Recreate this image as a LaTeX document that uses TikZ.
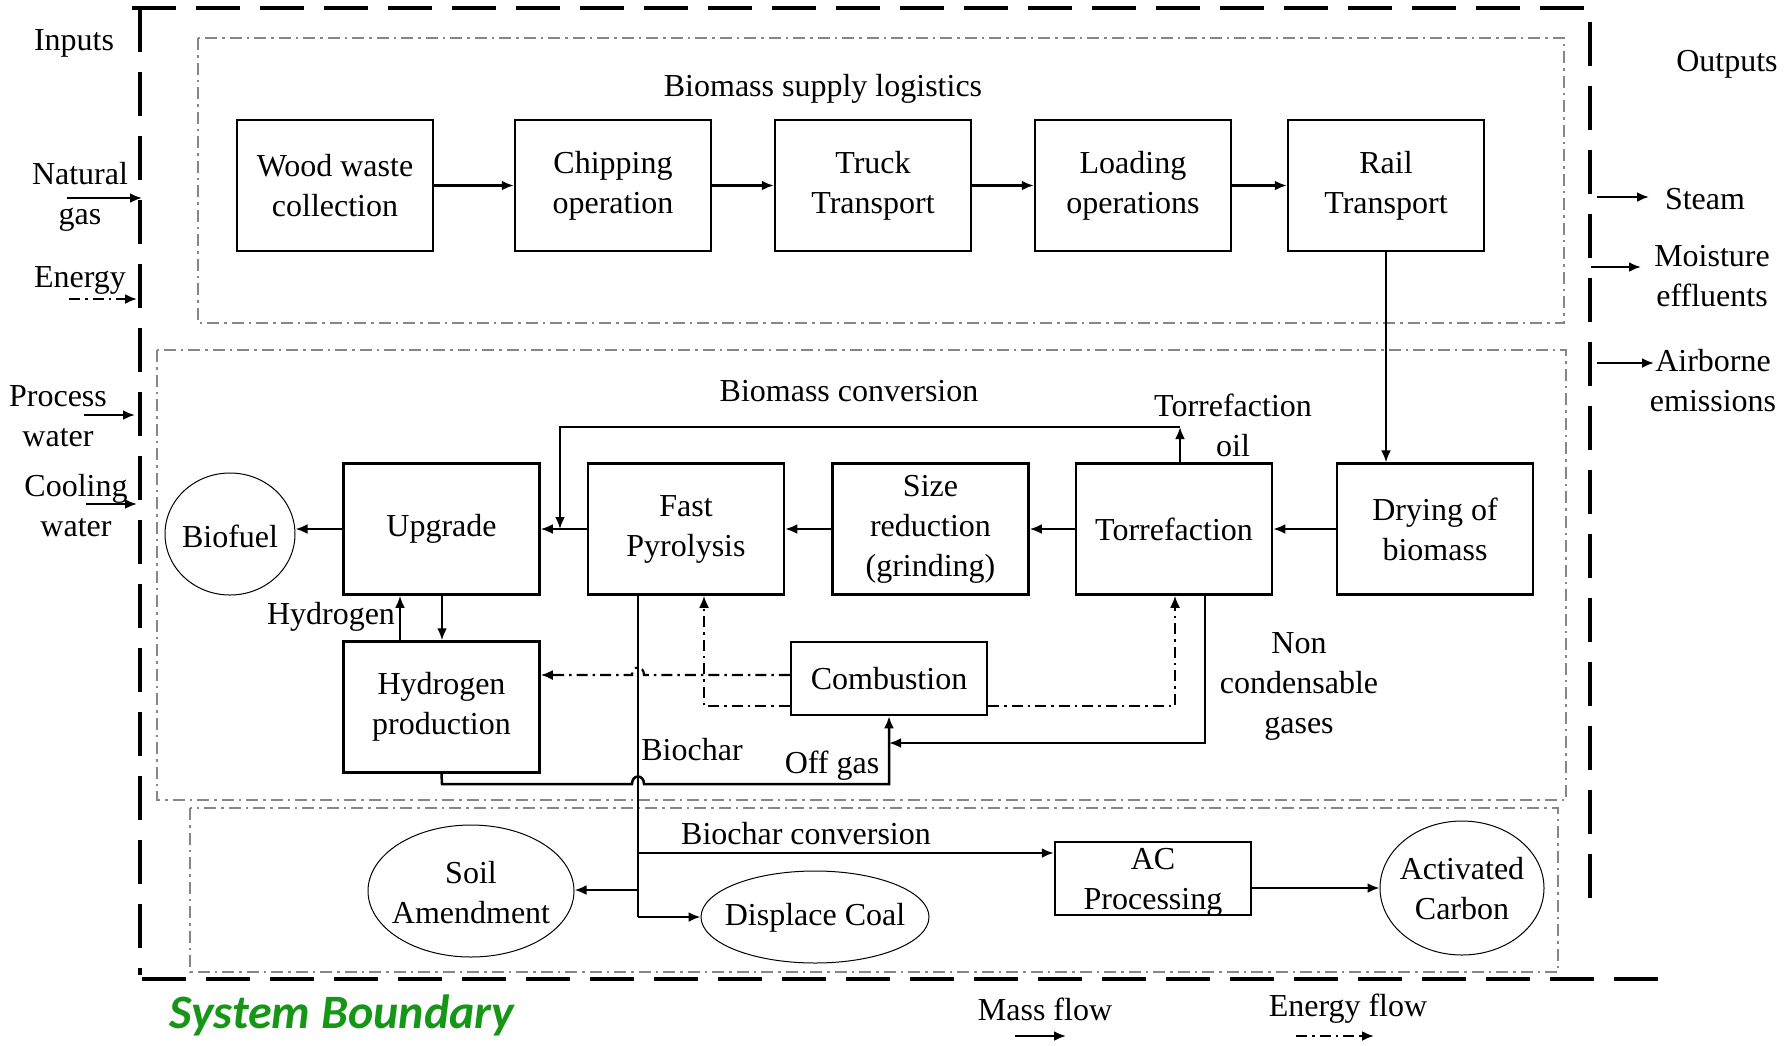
\documentclass[tikz,border=0pt]{standalone}
\usepackage{fontspec}
\setmainfont{Liberation Serif}
\newfontfamily\sbfont{Carlito}
\usetikzlibrary{shapes.geometric,arrows.meta}
\definecolor{sbgreen}{RGB}{22,150,22}
\definecolor{regiongray}{RGB}{135,135,135}
\begin{document}
\begin{tikzpicture}[x=1pt,y=-1pt,
  every node/.style={font=\fontsize{32}{40}\selectfont},
  proc/.style={draw, line width=2.5pt, minimum width=196pt, minimum height=131pt, inner sep=0pt, align=center},
  term/.style={draw, ellipse, line width=1pt, inner sep=0pt},
  lbl/.style={inner sep=0pt, align=center},
  tip/.style={-{Latex[length=12pt,width=10pt]}},
  flow/.style={line width=2.5pt, tip},
  mline/.style={line width=2.5pt},
  eflow/.style={line width=2.2pt, dash pattern=on 11pt off 5pt on 2.5pt off 5pt, tip},
  region/.style={draw=regiongray, line width=2pt, dash pattern=on 12pt off 5pt on 2.5pt off 5pt},
  boundary/.style={line width=4.5pt, dash pattern=on 44pt off 20pt}
]
\useasboundingbox (0,0) rectangle (1787,1045);

% system boundary
\draw[boundary] (132,8) -- (1590,8) -- (1590,912);
\draw[boundary] (140,8) -- (140,975);
\draw[boundary] (142,979) -- (1665,979);

% regions
\draw[region] (198,38) rectangle (1564,323);
\draw[region] (157,350) rectangle (1566,800);
\draw[region] (190,808) rectangle (1558,972);

\node[lbl] (tsupply) at (823,89) {Biomass supply logistics};
\node[lbl] (tconv) at (849,391) {Biomass conversion};
\node[lbl] (tchar) at (806,834) {Biochar conversion};

% supply chain
\node[proc] (wood) at (335,185.5) {Wood waste\\collection};
\node[proc] (chip) at (613,185.5) {Chipping\\operation};
\node[proc] (truck) at (873,185.5) {Truck\\Transport};
\node[proc] (load) at (1133,185.5) {Loading\\operations};
\node[proc] (rail) at (1386,185.5) {Rail\\Transport};
\draw[flow] (wood.east) -- (chip.west);
\draw[flow] (chip.east) -- (truck.west);
\draw[flow] (truck.east) -- (load.west);
\draw[flow] (load.east) -- (rail.west);

% conversion
\node[proc] (upg) at (441.5,529) {Upgrade};
\node[proc] (fp) at (686,529) {Fast\\Pyrolysis};
\node[proc] (size) at (930.5,529) {Size\\reduction\\(grinding)};
\node[proc] (torr) at (1174,529) {Torrefaction};
\node[proc] (dry) at (1435,529) {Drying of\\biomass};
\node[term, minimum width=130pt, minimum height=122pt] (biofuel) at (230,534) {};
\node[lbl] (biofueltxt) at (230,536) {Biofuel};
\node[proc] (hyd) at (441.5,707) {Hydrogen\\production};
\node[proc, minimum height=73pt] (comb) at (889,678.5) {Combustion};

\draw[flow, line width=2pt] (rail.south) -- (rail.south |- dry.north);
\draw[flow] (dry.west) -- (torr.east);
\draw[flow] (torr.west) -- (size.east);
\draw[flow] (size.west) -- (fp.east);
\draw[flow] (fp.west) -- (upg.east);
\draw[flow] (upg.west) -- (biofuel.east |- upg.west);

% torrefaction oil
\coordinate (oiltop) at (1180,427);
\coordinate (oilleft) at (560,427);
\draw[flow] (torr.north -| oiltop) -- (oiltop);
\draw[flow] (oiltop) -- (oilleft) -- (oilleft |- fp.west);
\node[lbl] (oiltxt) at (1233,425) {Torrefaction\\oil};

% hydrogen
\draw[flow] (hyd.north -| 400,0) -- (upg.south -| 400,0);
\draw[flow] (upg.south -| 442,0) -- (hyd.north -| 442,0);
\node[lbl] (h2txt) at (331,617) {Hydrogen};

% biochar
\coordinate (charbot) at (638,917);
\draw[mline] (fp.south -| charbot) -- (charbot);
\node[lbl] (chartxt) at (692,750) {Biochar};

% off gas
\draw[flow] (hyd.south) -- (442,784) -- (632,784) .. controls (632,774) and (644,774) .. (644,784) -- (comb.south |- 0,784) -- (comb.south);
\node[lbl] (offtxt) at (832,766) {Off gas};

% non condensable gases
\draw[flow] (torr.south -| 1205,0) -- (1205,743) -- (comb.south |- 0,743);
\node[lbl] (nctxt) at (1299,686) {Non\\condensable\\gases};

% energy flows
\draw[eflow] (comb.west |- 0,675) -- (644,675) .. controls (644,665) and (632,665) .. (632,675) -- (hyd.east |- 0,675);
\draw[eflow] (comb.west |- 0,706) -- (704,706) -- (fp.south -| 704,0);
\draw[eflow] (comb.east |- 0,706) -- (1175,706) -- (torr.south -| 1175,0);

% biochar conversion
\node[term, minimum width=206pt, minimum height=132pt] (soil) at (471,891) {};
\node[lbl] (soiltxt) at (471,893) {Soil\\Amendment};
\node[term, minimum width=228pt, minimum height=92pt] (coal) at (815,917) {};
\node[lbl] (coaltxt) at (815,918) {Displace Coal};
\node[draw, line width=2.5pt, minimum width=196pt, minimum height=73pt] (ac) at (1153,878.5) {};
\node[lbl] (actxt) at (1153,882) {AC\\Processing};
\node[term, minimum width=164pt, minimum height=134pt] (actc) at (1462,888) {};
\node[lbl] (actctxt) at (1462,889) {Activated\\Carbon};

\draw[flow] (638,853) -- (ac.west |- 0,853);
\draw[flow] (638,890) -- (soil.east |- 0,890);
\draw[flow] (charbot) -- (coal.west);
\draw[flow] (ac.east |- 0,888) -- (actc.west);

% inputs
\node[lbl] (inputs) at (74,43) {Inputs};
\node[lbl] (ngas) at (80,197) {Natural\\gas};
\node[lbl] (energy) at (80,280) {Energy};
\node[lbl] (pwater) at (58,416) {Process\\water};
\node[lbl] (cwater) at (76,506) {Cooling\\water};
\draw[flow] (67,198) -- (142,198);
\draw[eflow] (69,299) -- (137,299);
\draw[flow] (84,415) -- (135,415);
\draw[flow] (86,504) -- (137,504);

% outputs
\node[lbl] (outputs) at (1727,64) {Outputs};
\node[lbl] (steam) at (1705,199) {Steam};
\node[lbl] (moist) at (1712,276) {Moisture\\effluents};
\node[lbl] (air) at (1713,381) {Airborne\\emissions};
\draw[flow] (1597,197) -- (1649,197);
\draw[flow] (1591,267) -- (1641,267);
\draw[flow] (1597,363) -- (1654,363);

% legend
\node[lbl, font=\sbfont\bfseries\itshape\fontsize{48}{54}\selectfont, text=sbgreen] (sysb) at (342,1015) {System Boundary};
\node[lbl] (massleg) at (1045,1009) {Mass flow};
\node[lbl] (enleg) at (1348,1009) {Energy flow};
\draw[flow] (1015,1036) -- (1066,1036);
\draw[eflow] (1296,1036) -- (1374,1036);
\end{tikzpicture}
\end{document}
